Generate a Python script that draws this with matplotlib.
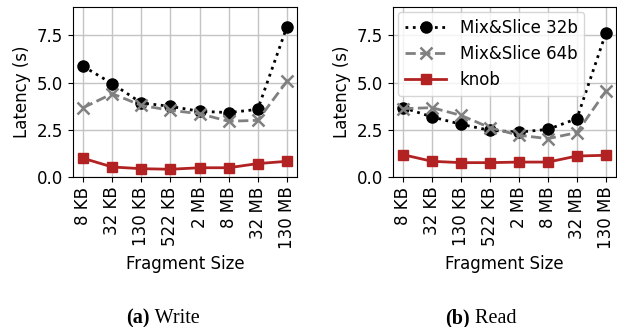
import matplotlib
matplotlib.use("Agg")
import matplotlib.pyplot as plt

sizes = ["8 KB", "32 KB", "130 KB", "522 KB", "2 MB", "8 MB", "32 MB", "130 MB"]

write_32b = [5.86, 4.94, 3.92, 3.74, 3.48, 3.41, 3.58, 7.94]
write_64b = [3.67, 4.41, 3.79, 3.53, 3.35, 2.95, 3.0, 5.06]
write_knob = [0.99, 0.53, 0.44, 0.41, 0.49, 0.49, 0.71, 0.83]

read_32b = [3.67, 3.18, 2.79, 2.47, 2.38, 2.52, 3.09, 7.62]
read_64b = [3.62, 3.67, 3.26, 2.61, 2.21, 2.03, 2.35, 4.55]
read_knob = [1.18, 0.83, 0.76, 0.76, 0.79, 0.79, 1.11, 1.15]

plt.rcParams["font.size"] = 12

fig = plt.figure(figsize=(6.17, 3.27), dpi=100)
ax1 = fig.add_axes([73 / 617, 1 - 177 / 327, 224 / 617, 170 / 327])
ax2 = fig.add_axes([393 / 617, 1 - 177 / 327, 223 / 617, 170 / 327])

x = list(range(len(sizes)))

def draw(ax, s32, s64, knob):
    ax.plot(x, s32, color="black", linestyle=":", linewidth=2, marker="o",
            markersize=8, label="Mix&Slice 32b", zorder=3)
    ax.plot(x, s64, color="gray", linestyle="--", linewidth=2, marker="x",
            markersize=8, markeredgewidth=1.8, label="Mix&Slice 64b", zorder=3)
    ax.plot(x, knob, color="firebrick", linestyle="-", linewidth=2, marker="s",
            markersize=7.5, label="knob", zorder=3)
    ax.set_ylim(0, 9)
    ax.set_yticks([0, 2.5, 5, 7.5])
    ax.set_xticks(x)
    ax.set_xticklabels(sizes, rotation=90)
    ax.grid(True, color="#c4c4c4", linewidth=1)
    ax.set_axisbelow(True)
    ax.set_xlabel("Fragment Size")
    ax.set_ylabel("Latency (s)")

draw(ax1, write_32b, write_64b, write_knob)
draw(ax2, read_32b, read_64b, read_knob)
ax2.legend(loc="upper left", fontsize=12, handlelength=2.5,
           borderaxespad=0.3)

serif = "Liberation Serif"
for lx, tag, name in [(126, "(a)", "Write"), (445, "(b)", "Read")]:
    t = fig.text(lx / 617, 1 - 318 / 327, tag, fontfamily=serif,
                 fontweight="bold", fontsize=14.5, va="center", ha="left")
    ax1.annotate(" " + name, xy=(1, 0), xycoords=t, va="bottom", ha="left",
                 fontfamily=serif, fontsize=14.5, annotation_clip=False)

fig.savefig("out.png", dpi=100)
